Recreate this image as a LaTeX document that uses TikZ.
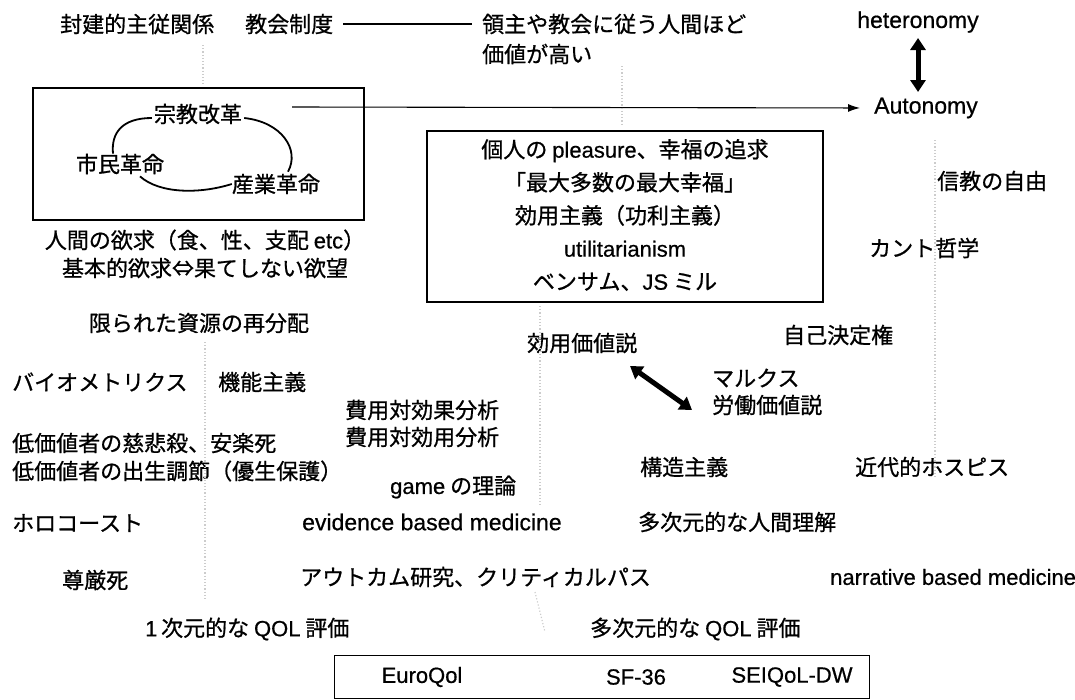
\documentclass[tikz,border=0pt]{standalone}
\usepackage{fontspec}
\setmainfont{Noto Sans CJK JP}[FakeBold=0.8]
\newfontfamily\lat{Liberation Sans}[FakeBold=0.6]
\usetikzlibrary{arrows.meta}
\begin{document}
\begin{tikzpicture}[x=1pt,y=-1pt,
  every node/.style={inner sep=0pt, font=\fontsize{22}{33}\selectfont},
  lbl/.style={anchor=west},
  boxnode/.style={draw, line width=1.3pt, minimum width=#1},
  arcline/.style={line width=1.8pt},
  faint/.style={draw=gray!40, dotted, line width=1.2pt},
  harrow/.style={line width=1.1pt, -{Latex[length=12pt,width=8pt]}},
  dbl/.style={line width=5pt, {Triangle[length=12pt,width=15pt]}-{Triangle[length=12pt,width=15pt]}}]
\useasboundingbox (0,0) rectangle (1075,699);

% top row
\node[lbl] (hoken) at (60,24) {封建的主従関係};
\node[lbl] (kyokai) at (245,24) {教会制度};
\node[lbl] (ryoshu) at (482,24) {領主や教会に従う人間ほど};
\node[lbl] (kachi) at (482,54) {価値が高い};
\draw[line width=1.6pt] ([xshift=10pt]kyokai.east) -- ([xshift=-10pt]ryoshu.west);

\node (hetero) at (918,22) {\fontsize{23}{30}\selectfont\lat heteronomy};
\node (auto) at (926,108) {\fontsize{23}{30}\selectfont\lat Autonomy};
\coordinate (ha) at (918,38);
\coordinate (hb) at (918,92);
\draw[dbl] (ha) -- (hb);

% left box
\node[boxnode=331, minimum height=132] (lbox) at (198.5,154) {};
\node (shukyo) at (198,114) {宗教改革};
\node (shimin) at (120,164) {市民革命};
\node (sangyo) at (276,184) {産業革命};
\draw[arcline] ([xshift=-2pt,yshift=-4pt]shukyo.west) .. controls (122,118) and (111,133) .. ([xshift=-7pt]shimin.north);
\draw[arcline] ([xshift=2pt,yshift=-4pt]shukyo.east) .. controls (282,122) and (300,150) .. ([xshift=12pt,yshift=2pt]sangyo.north);
\draw[arcline] ([xshift=20pt,yshift=-2pt]shimin.south) .. controls (160,194) and (200,194) .. (sangyo.west);

\coordinate (hstart) at (292,107);
\draw[harrow, shorten >=14pt] (hstart) -- (auto.west);

\node (yokkyu) at (205,240) {人間の欲求（食、性、支配 {\lat etc}）};
\node (kihon) at (205,268) {基本的欲求⇔果てしない欲望};

% middle box
\node[boxnode=396, minimum height=171] (mbox) at (625,216.5) {};
\node[align=center] (mtext) at (625,215) {個人の {\lat pleasure}、幸福の追求\\「最大多数の最大幸福」\\効用主義（功利主義）\\{\lat utilitarianism}\\ベンサム、{\lat JS} ミル};

% right column
\node[lbl] (shinkyo) at (937,181) {信教の自由};
\node[lbl] (kant) at (869,248) {カント哲学};
\node[lbl] (jiko) at (783,335) {自己決定権};

% left column
\node (kagirareta) at (199,323) {限られた資源の再分配};
\node[lbl] (bio) at (12,382) {バイオメトリクス};
\node[lbl] (kino) at (218,382) {機能主義};
\node[lbl] (tei1) at (12,443) {低価値者の慈悲殺、安楽死};
\node[lbl] (tei2) at (12,471) {低価値者の出生調節（優生保護）};
\node[lbl] (holo) at (12,523) {ホロコースト};
\node[lbl] (songen) at (62,580) {尊厳死};
\node[lbl] (ichi) at (145,629) {{\lat 1}\,次元的な {\lat QOL} 評価};

% middle column
\node[lbl] (koyo) at (527,343) {効用価値説};
\node[lbl] (hiyo1) at (345,410) {費用対効果分析};
\node[lbl] (hiyo2) at (345,437) {費用対効用分析};
\node[lbl] (game) at (390,487) {{\lat game} の理論};
\node[lbl] (ebm) at (302,522) {\fontsize{23}{30}\selectfont\lat evidence based medicine};
\node[lbl] (outcome) at (300,577) {アウトカム研究、クリティカルパス};
\node[lbl] (marx) at (712,378) {マルクス};
\node[lbl] (rodo) at (712,405) {労働価値説};
\coordinate (da) at (630,366);
\coordinate (db) at (692,410);
\draw[dbl] (da) -- (db);

\node[lbl] (kozo) at (640,467) {構造主義};
\node[lbl] (hospice) at (855,467) {近代的ホスピス};
\node[lbl] (tajigen) at (638,522) {多次元的な人間理解};
\node[lbl] (nbm) at (830,577) {\lat narrative based medicine};
\node[lbl] (tajiqol) at (590,629) {多次元的な {\lat QOL} 評価};

% bottom box
\node[boxnode=535, minimum height=43] (bbox) at (602,677) {};
\node (euro) at (422,677) {\lat EuroQol};
\node (sf) at (636,677) {\lat SF-36};
\node (seiqol) at (792,677) {\lat SEIQoL-DW};

% faint dotted flow lines
\coordinate (f1a) at (203,45);  \coordinate (f1b) at (203,84);
\coordinate (f2a) at (622,66);  \coordinate (f2b) at (622,126);
\coordinate (f3a) at (205,342); \coordinate (f3b) at (205,600);
\coordinate (f4a) at (540,306); \coordinate (f4b) at (540,505);
\coordinate (f5a) at (535,592); \coordinate (f5b) at (545,632);
\coordinate (f6a) at (935,140); \coordinate (f6b) at (935,478);
\draw[faint] (f1a) -- (f1b);
\draw[faint] (f2a) -- (f2b);
\draw[faint] (f3a) -- (f3b);
\draw[faint] (f4a) -- (f4b);
\draw[faint] (f5a) -- (f5b);
\draw[faint] (f6a) -- (f6b);
\end{tikzpicture}
\end{document}
